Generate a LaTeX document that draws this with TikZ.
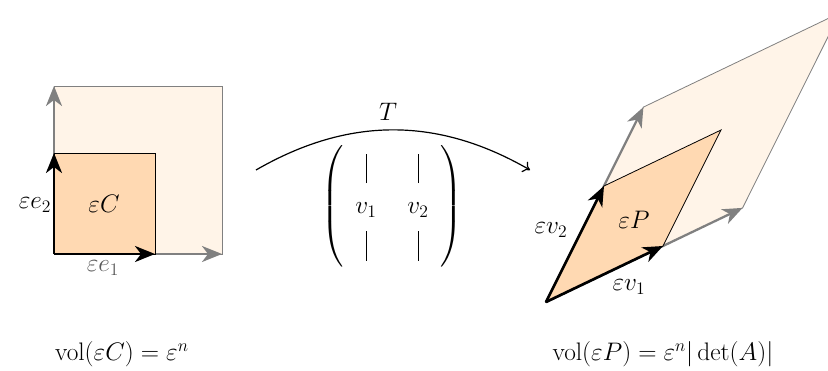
\documentclass[tikz,border=0pt]{standalone}
\usepackage{amsmath}
\usetikzlibrary{arrows.meta}
\newcommand{\mybar}{\rule[-5.5pt]{0.55pt}{20pt}}
\begin{document}
\begin{tikzpicture}[x=0.75pt,y=-0.75pt,
  font=\LARGE,
  bigfill/.style={fill=orange!9, draw=gray, line width=0.6pt},
  smallfill/.style={fill=orange!30, draw=black, line width=0.6pt},
  grayvec/.style={draw=gray, line width=1.7pt, -{Stealth[length=15pt,width=12pt,inset=4.5pt]}},
  blackvec/.style={draw=black, line width=2pt, -{Stealth[length=15pt,width=12pt,inset=4.5pt]}},
  lbl/.style={inner sep=1pt, scale=1.1}]
\useasboundingbox (0,0) rectangle (828,371);
% ---------- left: unit cube ----------
\coordinate (O1) at (54,254);
\coordinate (S1) at (155,254);
\coordinate (S2) at (54,153);
\coordinate (S12) at (155,153);
\coordinate (L1) at (222,254);
\coordinate (L2) at (54,86);
\coordinate (L12) at (222,86);
\path[bigfill] (O1) -- (L1) -- (L12) -- (L2) -- cycle;
\draw[grayvec] (O1) -- (L1);
\draw[grayvec] (O1) -- (L2);
\path[smallfill] (O1) -- (S1) -- (S12) -- (S2) -- cycle;
\draw[blackvec] (O1) -- (S1);
\draw[blackvec] (O1) -- (S2);
\node[lbl, anchor=east] (le2) at (53,205) {$\varepsilon e_2$};
\node[lbl, text=black!65] (le1) at (103,268) {$\varepsilon e_1$};
\node[lbl] (lC) at (104,204) {$\varepsilon C$};
% ---------- right: parallelepiped ----------
\coordinate (O2) at (546,302);
\coordinate (A1) at (663,246);
\coordinate (A2) at (604,186);
\coordinate (A12) at (721,130);
\coordinate (B1) at (742.6,207.9);
\coordinate (B2) at (643.4,107.1);
\coordinate (B12) at (840,12.8);
\path[bigfill] (O2) -- (B1) -- (B12) -- (B2) -- cycle;
\draw[grayvec] (O2) -- (B1);
\draw[grayvec] (O2) -- (B2);
\path[smallfill] (O2) -- (A1) -- (A12) -- (A2) -- cycle;
\draw[blackvec] (O2) -- (A1);
\draw[blackvec] (O2) -- (A2);
\node[lbl] (lv2) at (551,230) {$\varepsilon v_2$};
\node[lbl] (lv1) at (629,287) {$\varepsilon v_1$};
\node[lbl] (lP) at (634,220) {$\varepsilon P$};
% ---------- map T ----------
\coordinate (arcL) at (256,170);
\coordinate (arcR) at (530,170);
\draw[line width=0.9pt, -{To[length=5pt,width=9pt]}] (arcL) to[bend left=30] (arcR);
\node[lbl] (T) at (388,112) {$T$};
\node[lbl] (mat) at (392,206)
  {$\renewcommand{\arraystretch}{1.2}%
    \left(\begin{array}{@{\hspace{8pt}}c@{\hspace{21pt}}c@{\hspace{8pt}}} \mybar & \mybar \\ v_1 & v_2 \\ \mybar & \mybar \end{array}\right)$};
% ---------- volumes ----------
\node[lbl] (volC) at (122,354) {$\operatorname{vol}(\varepsilon C) = \varepsilon^n$};
\node[lbl] (volP) at (663,354) {$\operatorname{vol}(\varepsilon P) = \varepsilon^n|\det(A)|$};
\end{tikzpicture}
\end{document}
